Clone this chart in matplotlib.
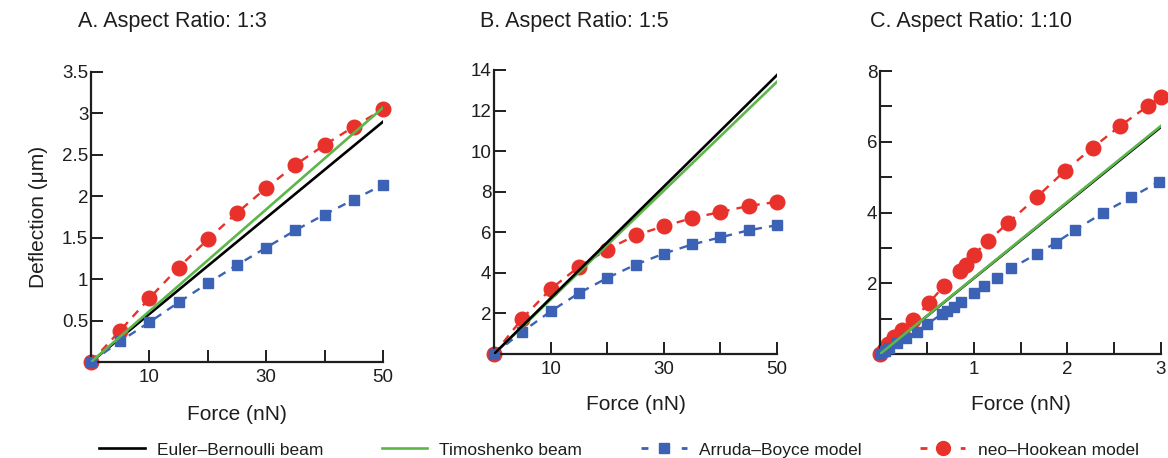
import matplotlib
matplotlib.use("Agg")
import matplotlib.pyplot as plt
from matplotlib.lines import Line2D

plt.rcParams['font.family'] = ['Liberation Sans', 'DejaVu Sans']

# ---- data ----
# A. aspect ratio 1:3
force_a = [0, 5, 10, 15, 20, 25, 30, 35, 40, 45, 50]
euler_a = [0, 2.90]
timo_a = [0, 3.07]
arruda_a = [0, 0.25, 0.48, 0.72, 0.95, 1.17, 1.38, 1.59, 1.78, 1.96, 2.14]
neo_a = [0, 0.38, 0.77, 1.14, 1.48, 1.80, 2.10, 2.38, 2.62, 2.84, 3.05]

# B. aspect ratio 1:5
force_b = [0, 5, 10, 15, 20, 25, 30, 35, 40, 45, 50]
euler_b = [0, 13.75]
timo_b = [0, 13.42]
arruda_b = [0, 1.1, 2.1, 3.0, 3.75, 4.4, 4.95, 5.4, 5.75, 6.1, 6.35]
neo_b = [0, 1.75, 3.2, 4.3, 5.15, 5.85, 6.3, 6.7, 7.0, 7.3, 7.5]

# C. aspect ratio 1:10
euler_c = [0, 6.42]
timo_c = [0, 6.45]
force_c_arr = [0, 0.05, 0.1, 0.18, 0.28, 0.39, 0.5, 0.66, 0.72, 0.79, 0.87,
               1.0, 1.11, 1.25, 1.4, 1.68, 1.88, 2.08, 2.38, 2.68, 2.98]
arruda_c = [0, 0.08, 0.17, 0.30, 0.46, 0.63, 0.84, 1.13, 1.22, 1.34, 1.48,
            1.73, 1.92, 2.14, 2.42, 2.84, 3.15, 3.50, 3.99, 4.43, 4.87]
force_c_neo = [0, 0.04, 0.09, 0.15, 0.23, 0.35, 0.52, 0.68, 0.85, 0.92, 1.0,
               1.15, 1.37, 1.68, 1.97, 2.27, 2.56, 2.86, 3.0]
neo_c = [0, 0.12, 0.27, 0.47, 0.68, 0.96, 1.43, 1.92, 2.34, 2.52, 2.80,
         3.19, 3.71, 4.45, 5.17, 5.83, 6.44, 7.01, 7.27]

titles = ['A. Aspect Ratio: 1:3', 'B. Aspect Ratio: 1:5', 'C. Aspect Ratio: 1:10']
legend_labels = ['Euler\u2013Bernoulli beam', 'Timoshenko beam',
                 'Arruda\u2013Boyce model', 'neo\u2013Hookean model']

RED = '#e8312b'
BLUE = '#3b62b5'
GREEN = '#5cb64a'
TXT = '#1e1e1e'

fig = plt.figure(figsize=(11.68, 4.58), dpi=100)
W, H = 1168, 458

def add_ax(l, r, t, b):
    return fig.add_axes([l / W, 1 - b / H, (r - l) / W, (b - t) / H])

ax_a = add_ax(91, 383, 72, 362)
ax_b = add_ax(494, 777, 70, 354)
ax_c = add_ax(880, 1161, 71, 354)


def draw(ax, fx_arr, arr, fx_neo, neo, fmax, euler, timo, black_top):
    ax.plot(fx_arr, arr, ls=(0, (3.5, 3)), lw=1.7, color=BLUE, marker='s',
            ms=7.5, clip_on=False, zorder=3)
    ax.plot(fx_neo, neo, ls=(0, (3.5, 3)), lw=1.7, color=RED, marker='o',
            ms=10.5, clip_on=False, zorder=2)
    ax.plot([0, fmax], euler, color='black', lw=1.9, zorder=5 if black_top else 1)
    ax.plot([0, fmax], timo, color=GREEN, lw=1.9, zorder=4 if black_top else 6)


draw(ax_a, force_a, arruda_a, force_a, neo_a, 50, euler_a, timo_a, False)
draw(ax_b, force_b, arruda_b, force_b, neo_b, 50, euler_b, timo_b, True)
draw(ax_c, force_c_arr, arruda_c, force_c_neo, neo_c, 3, euler_c, timo_c, False)

for ax in (ax_a, ax_b, ax_c):
    for s in ('top', 'right'):
        ax.spines[s].set_visible(False)
    for s in ('left', 'bottom'):
        ax.spines[s].set_linewidth(1.6)
        ax.spines[s].set_color(TXT)
    ax.tick_params(direction='in', length=8.5, width=1.4, labelsize=13.5,
                   colors=TXT)
    ax.tick_params(axis='y', pad=2)
    ax.tick_params(axis='x', pad=5)
    ax.patch.set_alpha(0)

ax_a.set_xlim(0, 50)
ax_a.set_ylim(0, 3.5)
ax_a.set_xticks([10, 20, 30, 40, 50], ['10', '', '30', '', '50'])
ax_a.set_yticks([0.5, 1, 1.5, 2, 2.5, 3, 3.5],
                ['0.5', '1', '1.5', '2', '2.5', '3', '3.5'])

ax_b.set_xlim(0, 50)
ax_b.set_ylim(0, 14)
ax_b.set_xticks([10, 20, 30, 40, 50], ['10', '', '30', '', '50'])
ax_b.set_yticks([2, 4, 6, 8, 10, 12, 14])

ax_c.set_xlim(0, 3)
ax_c.set_ylim(0, 8)
ax_c.set_xticks([0.5, 1, 1.5, 2, 2.5, 3], ['', '1', '', '2', '', '3'])
ax_c.set_yticks([1, 2, 3, 4, 5, 6, 7, 8], ['', '2', '', '4', '', '6', '', '8'])

ax_a.set_xlabel('Force (nN)', fontsize=15, labelpad=14, color=TXT)
ax_b.set_xlabel('Force (nN)', fontsize=15, labelpad=12, color=TXT)
ax_c.set_xlabel('Force (nN)', fontsize=15, labelpad=12, color=TXT)
ax_a.set_ylabel('Deflection (\u03bcm)', fontsize=15, labelpad=10, color=TXT)

for x0, t in zip((78, 480, 870), titles):
    fig.text(x0 / W, 1 - 21 / H, t, fontsize=15.5, ha='left', va='center',
             color=TXT)

handles = [
    Line2D([], [], color='black', lw=1.9),
    Line2D([], [], color=GREEN, lw=1.9),
    Line2D([], [], color=BLUE, lw=2, ls=(0.5, (3, 4.5)), marker='s', ms=7.5),
    Line2D([], [], color=RED, lw=2, ls=(0.5, (3, 4.5)), marker='o', ms=10),
]
fig.legend(handles, legend_labels, loc='center', ncol=4,
           bbox_to_anchor=(0.53, 1 - 450 / H), frameon=False, fontsize=12.5,
           handlelength=2.6, handletextpad=0.7, columnspacing=3.4,
           labelcolor=TXT)

fig.savefig('out.png', dpi=100)
